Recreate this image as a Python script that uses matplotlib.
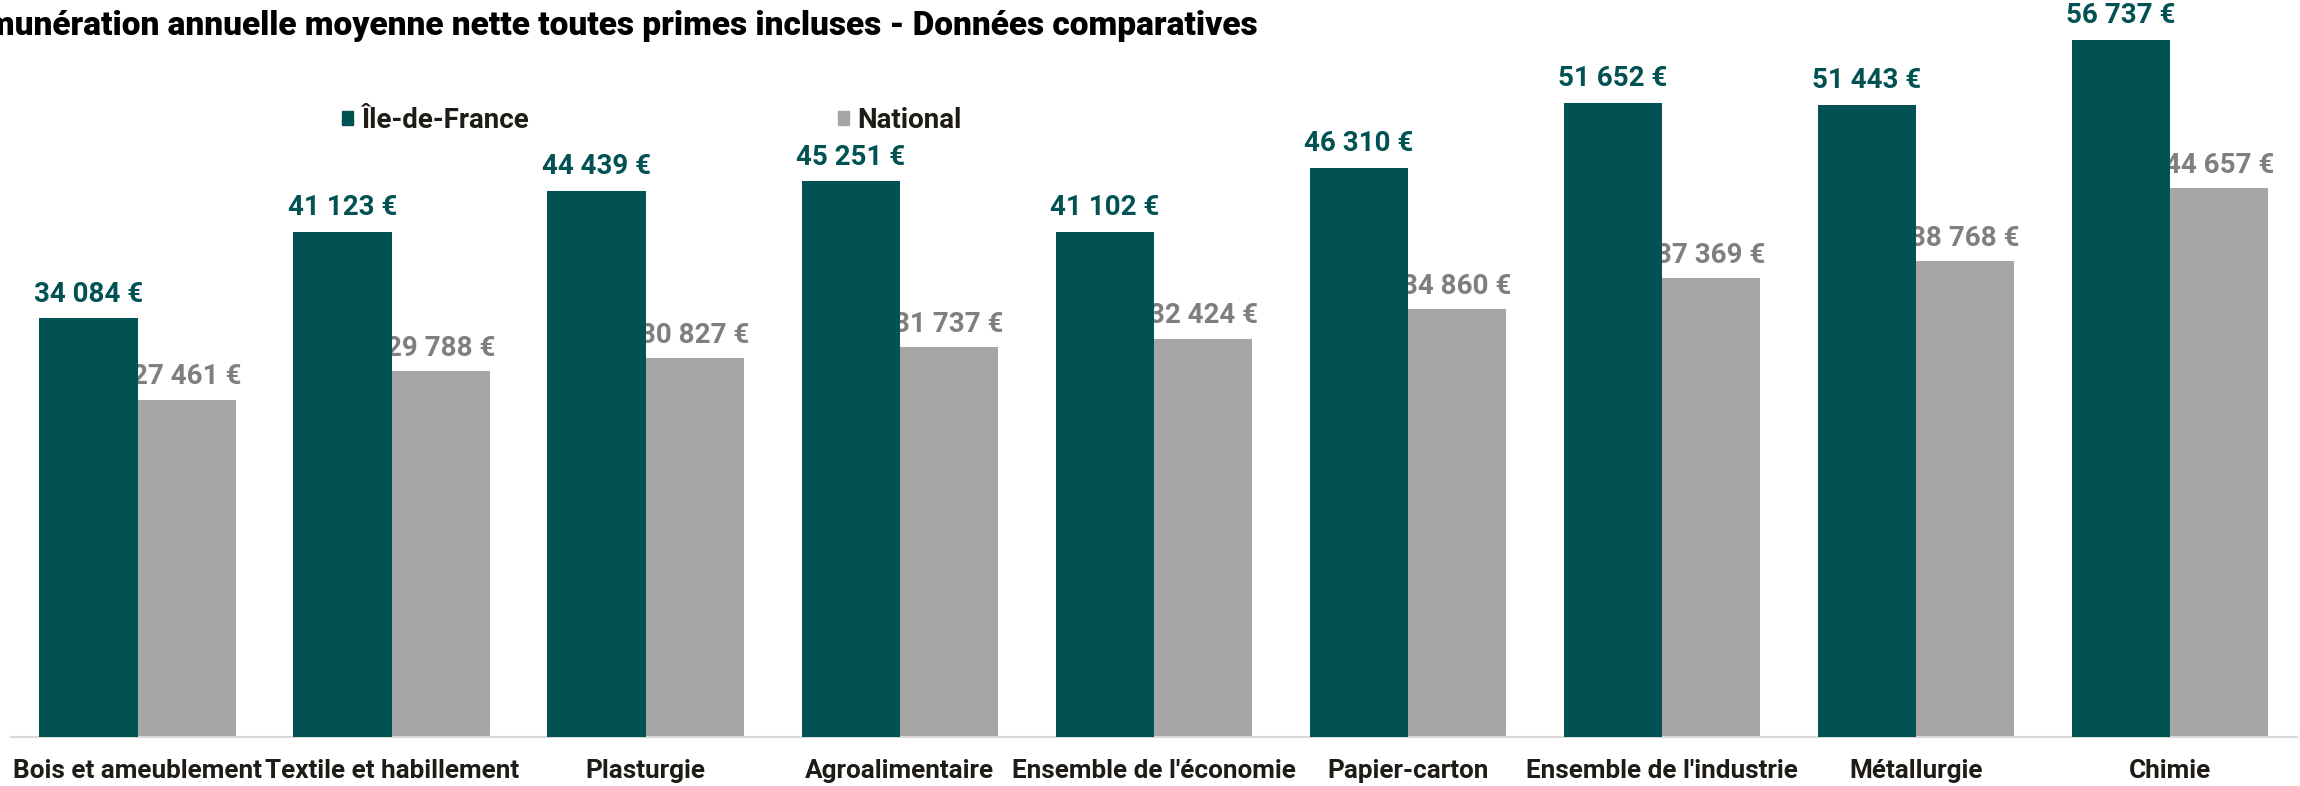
import matplotlib.pyplot as plt
from matplotlib.patches import Patch

# data
categories = ['Bois et ameublement', 'Textile et habillement', 'Plasturgie',
              'Agroalimentaire', "Ensemble de l'économie", 'Papier-carton',
              "Ensemble de l'industrie", 'Métallurgie', 'Chimie']
idf = [34084, 41123, 44439, 45251, 41102, 46310, 51652, 51443, 56737]
national = [27461, 29788, 30827, 31737, 32424, 34860, 37369, 38768, 44657]
series_names = ['Île-de-France', 'National']
title = 'Rémunération annuelle moyenne nette toutes primes incluses - Données comparatives'

teal = '#025254'
grey = '#A6A6A6'
grey_txt = '#7F7F7F'
dark = '#1F1B16'

plt.rcParams['font.family'] = ['Roboto', 'DejaVu Sans']


def euro(v):
    s = f'{v:,}'.replace(',', ' ')
    return s + ' €'


W, H = 2300, 786
fig = plt.figure(figsize=(W / 100, H / 100), dpi=100)
ax = fig.add_axes([10.7 / W, 49 / H, (2297 - 10.7) / W, 737 / H])

x = list(range(len(categories)))
bw = 0.387
x1 = [i - bw / 2 for i in x]
x2 = [i + bw / 2 for i in x]

ax.bar(x1, idf, width=bw, color=teal, zorder=3)
ax.bar(x2, national, width=bw, color=grey, zorder=2)

for xi, v in zip(x1, idf):
    ax.annotate(euro(v), (xi, v), xytext=(0, 12), textcoords='offset points',
                ha='center', va='baseline', fontsize=20, fontweight='bold',
                color=teal, zorder=4)
for xi, v in zip(x2, national):
    ax.annotate(euro(v), (xi, v), xytext=(0, 11), textcoords='offset points',
                ha='center', va='baseline', fontsize=20, fontweight='bold',
                color=grey_txt, zorder=2.5)

ax.set_xlim(-0.5, len(categories) - 0.5)
ax.set_ylim(0, 60000)
ax.set_xticks(x)
ax.set_xticklabels(categories, fontsize=18.8, fontweight='bold', color=dark)
ax.tick_params(axis='x', length=0, pad=16)
ax.set_yticks([])
for s in ['top', 'right', 'left']:
    ax.spines[s].set_visible(False)
ax.spines['bottom'].set_color('#D9D9D9')
ax.spines['bottom'].set_linewidth(1.5)

handles = [Patch(color=teal), Patch(color=grey)]
fig.legend(handles, series_names, loc='center left',
           bbox_to_anchor=(342 / W, 1 - 120 / H), ncol=2, frameon=False,
           handlelength=0.4, handleheight=0.4, handletextpad=0.3,
           columnspacing=11.1, borderpad=0, borderaxespad=0,
           prop={'family': 'Roboto', 'weight': 'bold', 'size': 20},
           labelcolor=dark)

fig.text(1258 / W, 1 - 35 / H, title, ha='right', va='baseline',
         fontsize=24.0, fontweight='heavy', color='black')

fig.savefig('out.png', dpi=100)
